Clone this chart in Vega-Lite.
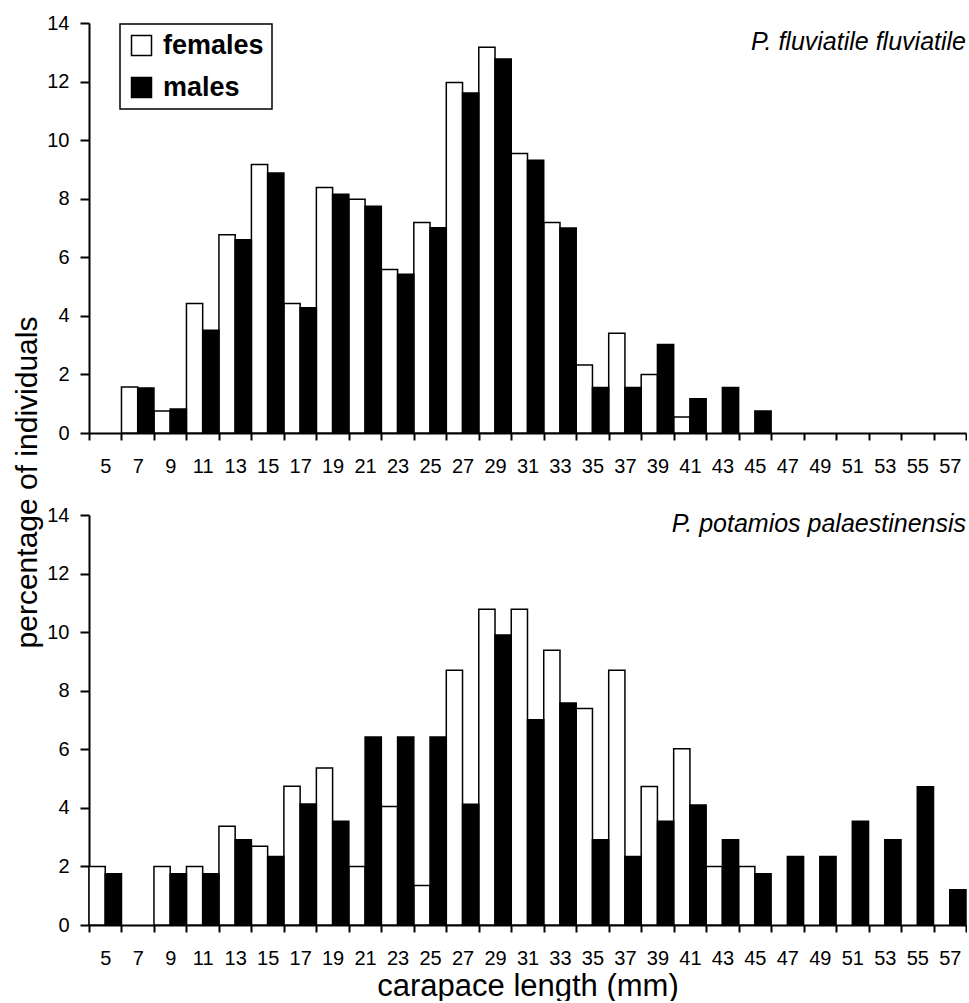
{
  "$schema": "https://vega.github.io/schema/vega-lite/v6.json",
  "background": "white",
  "padding": {"left": 12, "top": 13, "right": 0, "bottom": 0},
  "config": {
    "font": "Liberation Sans",
    "view": {"stroke": null},
    "axisX": {"domainColor": "black", "domainWidth": 2, "tickColor": "black", "tickWidth": 2, "tickSize": 7, "tickBand": "extent", "labelFontSize": 20, "labelColor": "black", "labelPadding": 16, "labelAngle": 0, "grid": false, "labelOverlap": false},
    "axisY": {"domainColor": "black", "domainWidth": 2, "tickColor": "black", "tickWidth": 2, "tickSize": 9, "labelPadding": 11, "labelFontSize": 20, "labelColor": "black", "grid": false, "labelFlush": false, "labelOverlap": false},
    "legend": {"orient": "none", "legendX": 31, "legendY": 1, "title": null, "strokeColor": "black", "strokeWidth": 1.5, "fillColor": "white", "padding": 8, "symbolType": "square", "symbolSize": 400, "symbolStrokeColor": "black", "symbolStrokeWidth": 1.5, "labelFontSize": 27, "labelFontWeight": "bold", "labelColor": "black", "labelOffset": 8, "rowPadding": 14}
  },
  "datasets": {
    "fluv": [
      {"len": 7, "sex": "females", "pct": 1.57}, {"len": 9, "sex": "females", "pct": 0.75}, {"len": 11, "sex": "females", "pct": 4.42}, {"len": 13, "sex": "females", "pct": 6.77}, {"len": 15, "sex": "females", "pct": 9.17}, {"len": 17, "sex": "females", "pct": 4.42}, {"len": 19, "sex": "females", "pct": 8.38}, {"len": 21, "sex": "females", "pct": 7.98}, {"len": 23, "sex": "females", "pct": 5.58}, {"len": 25, "sex": "females", "pct": 7.19}, {"len": 27, "sex": "females", "pct": 11.97}, {"len": 29, "sex": "females", "pct": 13.17}, {"len": 31, "sex": "females", "pct": 9.54}, {"len": 33, "sex": "females", "pct": 7.19}, {"len": 35, "sex": "females", "pct": 2.32}, {"len": 37, "sex": "females", "pct": 3.41}, {"len": 39, "sex": "females", "pct": 2.0}, {"len": 41, "sex": "females", "pct": 0.55},
      {"len": 7, "sex": "males", "pct": 1.54}, {"len": 9, "sex": "males", "pct": 0.82}, {"len": 11, "sex": "males", "pct": 3.51}, {"len": 13, "sex": "males", "pct": 6.6}, {"len": 15, "sex": "males", "pct": 8.88}, {"len": 17, "sex": "males", "pct": 4.28}, {"len": 19, "sex": "males", "pct": 8.15}, {"len": 21, "sex": "males", "pct": 7.74}, {"len": 23, "sex": "males", "pct": 5.42}, {"len": 25, "sex": "males", "pct": 7.01}, {"len": 27, "sex": "males", "pct": 11.61}, {"len": 29, "sex": "males", "pct": 12.77}, {"len": 31, "sex": "males", "pct": 9.31}, {"len": 33, "sex": "males", "pct": 7.0}, {"len": 35, "sex": "males", "pct": 1.55}, {"len": 37, "sex": "males", "pct": 1.55}, {"len": 39, "sex": "males", "pct": 3.02}, {"len": 41, "sex": "males", "pct": 1.17}, {"len": 43, "sex": "males", "pct": 1.55}, {"len": 45, "sex": "males", "pct": 0.75}
    ],
    "pot": [
      {"len": 5, "sex": "females", "pct": 2.0}, {"len": 9, "sex": "females", "pct": 2.0}, {"len": 11, "sex": "females", "pct": 2.0}, {"len": 13, "sex": "females", "pct": 3.37}, {"len": 15, "sex": "females", "pct": 2.69}, {"len": 17, "sex": "females", "pct": 4.74}, {"len": 19, "sex": "females", "pct": 5.36}, {"len": 21, "sex": "females", "pct": 2.0}, {"len": 23, "sex": "females", "pct": 4.05}, {"len": 25, "sex": "females", "pct": 1.35}, {"len": 27, "sex": "females", "pct": 8.7}, {"len": 29, "sex": "females", "pct": 10.78}, {"len": 31, "sex": "females", "pct": 10.78}, {"len": 33, "sex": "females", "pct": 9.38}, {"len": 35, "sex": "females", "pct": 7.39}, {"len": 37, "sex": "females", "pct": 8.7}, {"len": 39, "sex": "females", "pct": 4.73}, {"len": 41, "sex": "females", "pct": 6.02}, {"len": 43, "sex": "females", "pct": 2.0}, {"len": 45, "sex": "females", "pct": 2.0},
      {"len": 5, "sex": "males", "pct": 1.75}, {"len": 9, "sex": "males", "pct": 1.75}, {"len": 11, "sex": "males", "pct": 1.75}, {"len": 13, "sex": "males", "pct": 2.91}, {"len": 15, "sex": "males", "pct": 2.34}, {"len": 17, "sex": "males", "pct": 4.13}, {"len": 19, "sex": "males", "pct": 3.54}, {"len": 21, "sex": "males", "pct": 6.42}, {"len": 23, "sex": "males", "pct": 6.42}, {"len": 25, "sex": "males", "pct": 6.42}, {"len": 27, "sex": "males", "pct": 4.12}, {"len": 29, "sex": "males", "pct": 9.9}, {"len": 31, "sex": "males", "pct": 7.01}, {"len": 33, "sex": "males", "pct": 7.58}, {"len": 35, "sex": "males", "pct": 2.91}, {"len": 37, "sex": "males", "pct": 2.34}, {"len": 39, "sex": "males", "pct": 3.54}, {"len": 41, "sex": "males", "pct": 4.1}, {"len": 43, "sex": "males", "pct": 2.91}, {"len": 45, "sex": "males", "pct": 1.75}, {"len": 47, "sex": "males", "pct": 2.34}, {"len": 49, "sex": "males", "pct": 2.34}, {"len": 51, "sex": "males", "pct": 3.54}, {"len": 53, "sex": "males", "pct": 2.91}, {"len": 55, "sex": "males", "pct": 4.72}, {"len": 57, "sex": "males", "pct": 1.2}
    ]
  },
  "bounds": "flush",
  "spacing": 82,
  "resolve": {"scale": {"color": "independent"}, "legend": {"color": "independent"}},
  "vconcat": [
    {
      "width": 877,
      "height": 410,
      "data": {"name": "fluv"},
      "title": {"text": "P. fluviatile fluviatile", "anchor": "end", "frame": "group", "offset": -62, "baseline": "alphabetic", "fontSize": 25, "fontStyle": "italic", "fontWeight": "normal", "color": "black"},
      "mark": {"type": "bar", "stroke": "black", "strokeWidth": 1.5},
      "encoding": {
        "x": {"field": "len", "type": "ordinal", "scale": {"domain": [5,7,9,11,13,15,17,19,21,23,25,27,29,31,33,35,37,39,41,43,45,47,49,51,53,55,57], "paddingInner": 0, "paddingOuter": 0}, "axis": {"title": null}},
        "xOffset": {"field": "sex", "type": "nominal", "scale": {"domain": ["females", "males"], "paddingInner": 0, "paddingOuter": 0}},
        "y": {"field": "pct", "type": "quantitative", "scale": {"domain": [0, 14]}, "axis": {"values": [0,2,4,6,8,10,12,14], "title": "percentage of individuals", "titleFontSize": 30, "titleFontWeight": "normal", "titleColor": "black", "titleX": -53, "titleY": 459, "titleAngle": -90, "titleAlign": "center", "titleBaseline": "alphabetic"}},
        "color": {"field": "sex", "type": "nominal", "scale": {"domain": ["females", "males"], "range": ["white", "black"]}, "legend": {"orient": "none", "legendX": 31, "legendY": 1}}
      }
    },
    {
      "width": 877,
      "height": 410,
      "data": {"name": "pot"},
      "title": {"text": "P. potamios palaestinensis", "anchor": "end", "frame": "group", "offset": -52, "baseline": "alphabetic", "fontSize": 25, "fontStyle": "italic", "fontWeight": "normal", "color": "black"},
      "mark": {"type": "bar", "stroke": "black", "strokeWidth": 1.5},
      "encoding": {
        "x": {"field": "len", "type": "ordinal", "scale": {"domain": [5,7,9,11,13,15,17,19,21,23,25,27,29,31,33,35,37,39,41,43,45,47,49,51,53,55,57], "paddingInner": 0, "paddingOuter": 0}, "axis": {"title": "carapace length (mm)", "titleFontSize": 31, "titleFontWeight": "normal", "titleColor": "black", "titleY": 70, "titleBaseline": "alphabetic"}},
        "xOffset": {"field": "sex", "type": "nominal", "scale": {"domain": ["females", "males"], "paddingInner": 0, "paddingOuter": 0}},
        "y": {"field": "pct", "type": "quantitative", "scale": {"domain": [0, 14]}, "axis": {"values": [0,2,4,6,8,10,12,14], "title": null}},
        "color": {"field": "sex", "type": "nominal", "scale": {"domain": ["females", "males"], "range": ["white", "black"]}, "legend": null}
      }
    }
  ]
}
